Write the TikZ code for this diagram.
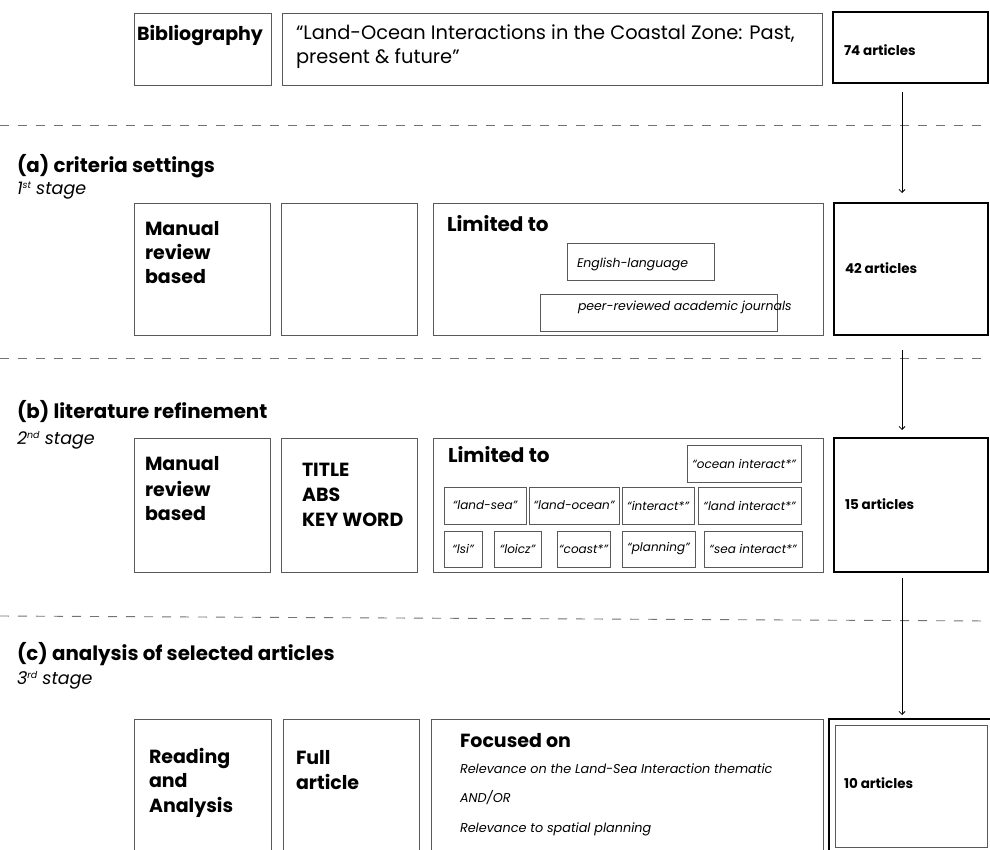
\documentclass[tikz,border=0pt]{standalone}
\usepackage{fontspec}
\setmainfont{Poppins}
\usetikzlibrary{arrows.meta}
\newcommand\mkbox[6]{\node[#1, anchor=north west, minimum width={(#5-#3)*1pt}, minimum height={(#6-#4)*1pt}] (#2) at (#3,#4) {};}
\newcommand\mkkw[6]{\node[kw, anchor=north west, minimum width={(#4-#2)*1pt}, minimum height={(#5-#3)*1pt}] (#1) at (#2,#3) {#6};}
\newcommand\supsm[1]{\raisebox{5.5pt}{\fontsize{9.5}{10}\selectfont #1}}
\begin{document}
\begin{tikzpicture}[x=1pt,y=-1pt,
  thinbox/.style={draw=black!65, line width=0.9pt, inner sep=0pt, outer sep=0pt},
  thickbox/.style={draw=black, line width=1.8pt, inner sep=0pt, outer sep=0pt},
  kw/.style={thinbox, font=\fontsize{12}{14}\selectfont\itshape},
  txt/.style={anchor=base west, inner sep=0pt, outer sep=0pt},
  head/.style={txt, font=\fontsize{19}{23}\selectfont\bfseries},
  big/.style={txt, font=\fontsize{20}{24}\selectfont\bfseries},
  lab/.style={txt, font=\fontsize{19.8}{23}\selectfont\bfseries},
  stg/.style={txt, font=\fontsize{17.5}{20}\selectfont\itshape},
  art/.style={txt, font=\fontsize{13.5}{16}\selectfont\bfseries},
  small/.style={txt, font=\fontsize{12.5}{15}\selectfont\itshape},
  rel/.style={txt, font=\fontsize{12.8}{16}\selectfont\itshape},
  dashline/.style={draw=black!55, line width=0.9pt, dash pattern=on 9pt off 9pt},
  arr/.style={draw=black, line width=0.8pt, -{Straight Barb[length=3pt,width=6pt]}}]
\useasboundingbox (0,0) rectangle (990,849);
\fill[white] (0,0) rectangle (990,849);
\clip (0,0) rectangle (990,849);

% separators
\coordinate (d1a) at (0,125); \coordinate (d1b) at (990,125);
\coordinate (d2a) at (0,358); \coordinate (d2b) at (990,358);
\coordinate (d3a) at (0,616); \coordinate (d3b) at (990,621);
\draw[dashline] (d1a) -- (d1b);
\draw[dashline] (d2a) -- (d2b);
\draw[dashline] (d3a) -- (d3b);

% row 0
\mkbox{thinbox}{bib}{134}{13}{271}{85}
\mkbox{thinbox}{ttl}{282}{13}{822}{85}
\mkbox{thickbox}{a74}{833}{12}{988}{83}
\node[txt, font=\fontsize{19}{22}\selectfont\bfseries] (tbib) at (137,40) {Bibliography};
\node[txt, font=\fontsize{19.4}{23}\selectfont] (tt1) at (296,39) {“Land-Ocean Interactions in the Coastal Zone: Past,};
\node[txt, font=\fontsize{19.4}{23}\selectfont] (tt2) at (296,63) {present \& future”};
\node[art] (t74) at (844,55) {74 articles};

% stage a
\node[lab] (la) at (17,172) {(a) criteria settings};
\node[stg] (sa) at (17,194) {1\supsm{st} stage};
\mkbox{thinbox}{ma}{134}{203}{270}{335}
\mkbox{thinbox}{ea}{281}{203}{417}{335}
\mkbox{thinbox}{lima}{433}{203}{823}{335}
\mkbox{thickbox}{a42}{834}{203}{988}{335}
\node[head] (ma1) at (145,235) {Manual};
\node[head] (ma2) at (145,259) {review};
\node[head] (ma3) at (145,283) {based};
\node[big] (lta) at (447,231) {Limited to};
\mkbox{thinbox}{eng}{567}{243}{714}{280}
\mkbox{thinbox}{peer}{540}{294}{777}{331}
\node[small] (teng) at (577,267) {English-language};
\node[small] (tpeer) at (578,310) {peer-reviewed academic journals};
\node[art] (t42) at (845,273) {42 articles};

% stage b
\node[lab] (lb) at (17,418) {(b) literature refinement};
\node[stg] (sb) at (17,444) {2\supsm{nd} stage};
\mkbox{thinbox}{mb}{134}{438}{270}{572}
\mkbox{thinbox}{tab}{281}{438}{417}{572}
\mkbox{thinbox}{limb}{433}{438}{823}{572}
\mkbox{thickbox}{a15}{834}{438}{988}{572}
\node[head] (mb1) at (145,470) {Manual};
\node[head] (mb2) at (145,496) {review};
\node[head] (mb3) at (145,520) {based};
\node[head] (tb1) at (302,476) {TITLE};
\node[head] (tb2) at (302,501) {ABS};
\node[head] (tb3) at (302,526) {KEY WORD};
\node[big] (ltb) at (448,462) {Limited to};
\mkkw{k0}{687}{445}{801}{482}{“ocean interact*”}
\mkkw{k1}{444}{487}{526}{524}{“land-sea”}
\mkkw{k2}{529}{487}{619}{524}{“land-ocean”}
\mkkw{k3}{622}{487}{694}{524}{“interact*”}
\mkkw{k4}{698}{487}{801}{524}{“land interact*”}
\mkkw{k5}{444}{531}{482}{567}{“lsi”}
\mkkw{k6}{494}{531}{541}{567}{“loicz”}
\mkkw{k7}{557}{531}{610}{567}{“coast*”}
\mkkw{k8}{622}{531}{695}{567}{“planning”}
\mkkw{k9}{704}{531}{802}{567}{“sea interact*”}
\node[art] (t15) at (845,509) {15 articles};

% stage c
\node[lab] (lc) at (17,660) {(c) analysis of selected articles};
\node[stg] (sc) at (17,684) {3\supsm{rd} stage};
\mkbox{thinbox}{rc}{134}{719}{271}{860}
\mkbox{thinbox}{fc}{283}{719}{419}{860}
\mkbox{thinbox}{foc}{431}{719}{823}{860}
\mkbox{thickbox}{a10o}{829}{719}{995}{860}
\mkbox{thinbox}{a10}{835}{725}{987}{847}
\node[head] (rc1) at (149,763) {Reading};
\node[head] (rc2) at (149,787) {and};
\node[head] (rc3) at (149,812) {Analysis};
\node[head] (fc1) at (296,764) {Full};
\node[head] (fc2) at (296,789) {article};
\node[head] (tfoc) at (460,747) {Focused on};
\node[rel] (r1) at (460,773) {Relevance on the Land-Sea Interaction thematic};
\node[rel] (r2) at (460,802) {AND/OR};
\node[rel] (r3) at (460,832) {Relevance to spatial planning};
\node[art] (t10) at (844,788) {10 articles};

% arrows
\coordinate (s1) at (902,92);  \coordinate (e1) at (902,193);
\coordinate (s2) at (902,350); \coordinate (e2) at (902,430);
\coordinate (s3) at (902,578); \coordinate (e3) at (902,715);
\draw[arr] (s1) -- (e1);
\draw[arr] (s2) -- (e2);
\draw[arr] (s3) -- (e3);
\end{tikzpicture}
\end{document}
